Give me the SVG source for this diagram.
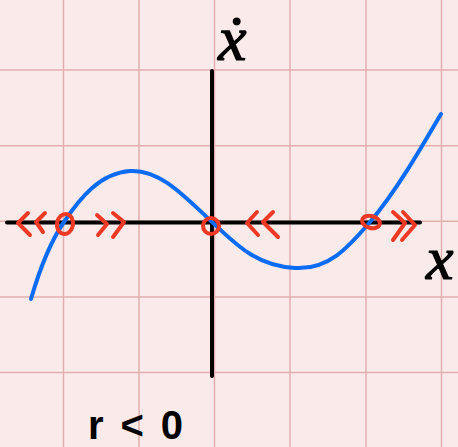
<svg xmlns="http://www.w3.org/2000/svg" width="458" height="447" viewBox="0 0 458 447">
<style>
.grid{stroke:#e2afaf;stroke-width:1.5;fill:none}
.axis{stroke:#000;stroke-width:4;stroke-linecap:round;fill:none}
.curve{stroke:#0a6cf5;stroke-width:4;stroke-linecap:round;stroke-linejoin:round;fill:none}
.red{stroke:#ee3a25;stroke-width:4;stroke-linecap:round;stroke-linejoin:round;fill:none}
.lbl{font-family:"Liberation Serif",serif;font-style:italic;fill:#000;stroke:#000;stroke-width:1.2}
</style>
<rect width="458" height="447" fill="#fbeaea"/>
<g id="grid" class="grid">
<path d="M63.5,0V447M139,0V447M214.5,0V447M290,0V447M366,0V447M441.5,0V447"/>
<path d="M0,70H458M0,145.7H458M0,221.3H458M0,297H458M0,372.5H458"/>
</g>
<g id="axes" class="axis">
<path d="M212,71V376"/>
<path d="M7,222.5H420"/>
</g>
<g id="curve">
<path class="curve" d="M31,299 C38,275 48,245 64,222 C80,198 100,173 130,171 C160,169 185,197 212,222 C235,243 255,266 295,268 C330,270 350,245 370,222 C395,193 420,150 441,114"/>
</g>
<g id="fixed-points" class="red">
<ellipse cx="65" cy="224" rx="8" ry="10" transform="rotate(10 65 224)"/>
<ellipse cx="211" cy="226" rx="8" ry="8"/>
<ellipse cx="371" cy="222" rx="9" ry="6" transform="rotate(15 371 222)"/>
</g>
<g id="flow-arrows" class="red">
<path d="M28,213 L18,223 L30,235 M45,213 L36,222 L43,232"/>
<path d="M97,215 L107,224 L98,235 M113,213 L124,222 L113,237"/>
<path d="M257,212 L247,223 L258,235 M273,212 L263,222 L278,237"/>
<path d="M393,212 L405,223 L393,240 M403,212 L415,225 L402,240"/>
</g>
<g id="labels">
<text class="lbl" x="218" y="60" font-size="64">ẋ</text>
<text class="lbl" x="426" y="279" font-size="62">x</text>
<text x="88" y="439" font-family="Liberation Sans,sans-serif" font-size="40" font-weight="bold" textLength="95" lengthAdjust="spacing">r&lt;0</text>
</g>
</svg>
